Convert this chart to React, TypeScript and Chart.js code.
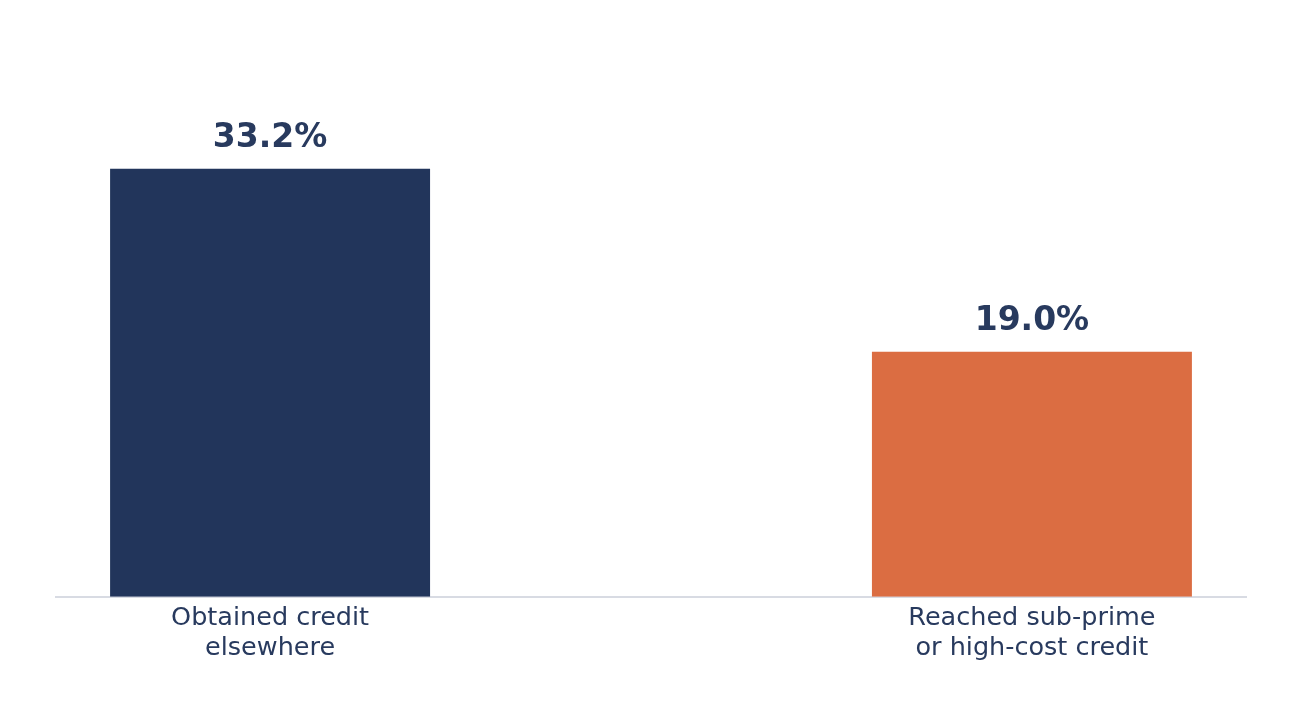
import React, { useEffect, useRef } from 'react';
import { Chart, registerables } from 'chart.js';

Chart.register(...registerables);

const categories: string[][] = [
  ['Obtained credit', 'elsewhere'],
  ['Reached sub-prime', 'or high-cost credit'],
];
const values: number[] = [33.2, 19.0];
const barColors: string[] = ['#22355b', '#db6d42'];

const textColor = '#283a5e';

const valueLabels = {
  id: 'valueLabels',
  afterDatasetsDraw(chart: any) {
    const { ctx } = chart;
    const meta = chart.getDatasetMeta(0);
    ctx.save();
    ctx.font = 'bold 33px "DejaVu Sans"';
    ctx.fillStyle = textColor;
    ctx.textAlign = 'center';
    ctx.textBaseline = 'bottom';
    meta.data.forEach((bar: any, i: number) => {
      ctx.fillText(values[i].toFixed(1) + '%', bar.x, bar.y - 14);
    });
    ctx.restore();
  },
};

const App: React.FC = () => {
  const canvasRef = useRef<HTMLCanvasElement>(null);

  useEffect(() => {
    document.body.style.margin = '0';
    if (!canvasRef.current) return;
    const ctx = canvasRef.current.getContext('2d');
    if (!ctx) return;

    const chart = new Chart(ctx, {
      type: 'bar',
      data: {
        datasets: [
          {
            data: values.map((v, i) => ({ x: i, y: v })),
            backgroundColor: barColors,
            categoryPercentage: 1,
            barPercentage: 0.42,
          },
        ],
      },
      options: {
        animation: false,
        responsive: true,
        maintainAspectRatio: false,
        layout: { padding: { left: 56, right: 56, top: 81, bottom: 47 } },
        plugins: {
          legend: { display: false },
          tooltip: { enabled: false },
        },
        scales: {
          x: {
            type: 'linear',
            offset: false,
            min: -0.281,
            max: 1.281,
            afterBuildTicks: (axis: any) => {
              axis.ticks = categories.map((_, i) => ({ value: i }));
            },
            grid: { display: false, drawTicks: false, offset: false },
            border: { display: true, color: '#d8dbe3', width: 2 },
            ticks: {
              padding: 6,
              color: textColor,
              font: { family: '"DejaVu Sans"', size: 25.5 },
              maxRotation: 0,
              autoSkip: false,
              callback: (v: any) => categories[v as number] ?? '',
            },
          },
          y: {
            display: false,
            min: 0,
            max: 40,
          },
        },
      },
      plugins: [valueLabels],
    });

    return () => {
      chart.destroy();
    };
  }, []);

  return (
    <div style={{ width: 1302, height: 717, background: '#ffffff' }}>
      <canvas ref={canvasRef}></canvas>
    </div>
  );
};

export default App;
